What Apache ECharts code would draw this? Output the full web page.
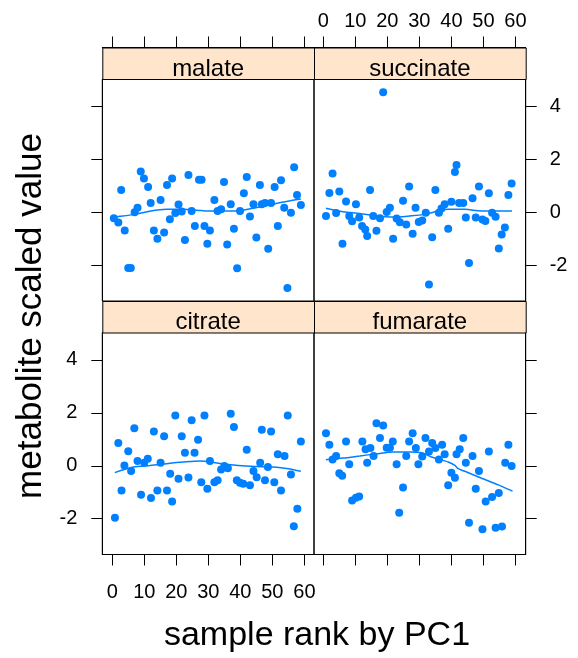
<!DOCTYPE html>
<html>
<head>
<meta charset="utf-8">
<script src="https://cdn.jsdelivr.net/npm/echarts@6/dist/echarts.min.js"></script>
<style>
html,body{margin:0;padding:0;background:#fff;}
#chart{width:578px;height:658px;}
</style>
</head>
<body>
<div id="chart"></div>
<script>
// ---------- data ----------
const panelNames = ['malate', 'succinate', 'citrate', 'fumarate'];
const xTicks = [0, 10, 20, 30, 40, 50, 60];
const yTicks = [-2, 0, 2, 4];
const xTitle = 'sample rank by PC1';
const yTitle = 'metabolite scaled value';

const malateX = [0.5,1.9,2.8,3.9,5.0,5.8,7.0,7.9,8.9,9.9,11.2,12.0,13.0,14.1,15.1,16.2,17.1,18.0,18.7,19.7,20.7,21.7,22.7,23.8,24.8,25.8,27.1,27.9,28.8,29.7,30.5,31.9,32.9,34.0,34.9,35.9,37.0,38.0,39.0,39.9,41.1,42.0,43.0,44.1,45.0,46.1,46.7,47.7,48.7,49.6,50.7,51.7,52.7,53.7,54.7,55.8,56.8,57.7,58.9];
const malateY = [-0.23,-0.39,0.84,-0.69,-2.1,-2.1,0.0,0.17,1.54,1.27,0.95,0.35,-0.69,-1.0,0.46,-0.76,1.03,-0.26,1.27,-0.03,0.29,0.03,-1.05,1.41,0.05,-0.52,1.23,1.23,-0.52,-1.19,-0.69,0.46,0.05,0.11,1.14,-1.22,0.30,-0.62,-2.11,0.05,0.72,1.33,-0.16,0.30,-0.95,1.03,0.30,0.35,-1.38,0.35,0.95,-0.52,1.21,0.17,-2.86,-0.02,1.70,0.65,0.27];
const malateSmoothX = [0.5,7,12,17,22,27,29,34,39,44,49,54,58.9];
const malateSmoothY = [-0.18,-0.08,0.05,0.11,0.11,0.07,0.05,0.05,0.05,0.15,0.28,0.40,0.50];

const succinateX = [0.84,1.9,2.9,4.0,5.0,6.0,7.1,8.1,9.0,10.2,11.2,12.1,13.1,13.7,14.6,15.6,16.6,17.7,18.7,19.8,20.8,21.8,22.9,23.9,24.9,25.9,26.8,27.9,28.8,29.8,30.9,32.0,33.0,34.0,35.0,36.1,36.9,37.9,39.0,40.0,41.1,41.6,42.4,43.7,44.5,45.5,46.6,47.6,48.6,49.7,50.6,51.7,52.7,53.8,54.8,55.7,56.7,57.8,58.8];
const succinateY = [-0.14,0.73,1.46,-0.03,0.78,-1.19,0.41,-0.14,-0.34,0.30,-0.20,-0.52,-0.65,-0.90,0.84,-0.14,-0.70,-0.23,4.53,0.01,0.17,-1.00,-0.24,-0.38,0.43,-0.46,0.97,-0.81,0.17,-0.37,-0.31,-0.02,-2.73,-0.94,0.84,-0.02,0.14,0.30,-0.62,0.40,1.52,1.78,0.35,0.35,-0.20,-1.92,0.53,-0.20,0.97,-0.27,-0.33,0.72,-0.02,-0.17,-1.37,-0.84,-0.58,0.65,1.09];
const succinateSmoothX = [0.8,6.2,11.4,16.6,21.8,27,31.7,35.9,39,44.2,49.4,54.6,58.9];
const succinateSmoothY = [0.15,0.02,-0.05,-0.14,-0.18,-0.14,-0.08,0.05,0.11,0.11,0.05,0.05,0.05];

const citrateX = [0.84,1.9,2.9,3.8,5.0,5.9,6.9,7.9,9.0,10.0,11.1,12.1,13.0,14.1,15.1,16.2,17.1,18.1,18.7,19.7,20.7,21.7,22.7,23.8,24.8,25.7,26.8,27.8,28.8,29.7,30.5,31.9,32.9,34.0,35.0,36.1,37.0,38.0,38.9,39.9,40.9,42.0,43.0,44.1,45.1,46.2,46.7,47.7,48.6,49.6,50.6,51.7,52.7,53.8,54.8,55.8,56.7,57.8,58.9];
const citrateY = [-1.96,0.86,-0.93,0.01,0.55,-0.20,1.42,0.18,-1.09,0.11,0.26,-1.22,1.29,-0.93,0.11,1.11,-0.93,-0.30,-1.35,1.90,-0.49,1.11,0.49,-0.44,1.72,0.49,0.98,-0.62,1.90,-0.87,0.18,-0.62,-0.55,-0.14,-0.01,-0.09,1.96,1.46,-0.55,-0.64,-0.68,0.60,-0.74,-0.20,-0.43,0.11,1.36,-0.55,-0.05,1.29,-0.62,0.43,-0.93,0.37,1.90,-0.33,-2.28,-1.62,0.92];
const citrateSmoothX = [0.8,6.6,11.8,17,22.2,27.4,29,34.2,39.4,44.6,49.8,55,58.9];
const citrateSmoothY = [-0.26,-0.05,0.01,0.08,0.14,0.18,0.17,0.08,0.01,-0.03,-0.05,-0.11,-0.21];

const fumarateX = [0.84,1.9,2.9,4.0,5.0,5.9,7.1,8.1,9.0,10.2,11.2,12.2,13.2,13.7,14.7,15.7,16.6,17.7,18.7,19.8,20.8,21.7,22.9,23.7,24.9,25.9,26.8,27.9,28.9,29.7,30.9,31.9,33.0,34.0,35.0,36.1,37.1,37.9,39.0,40.0,41.1,41.6,42.6,43.7,44.5,45.5,46.6,47.6,48.6,49.7,50.7,51.7,52.7,53.8,54.8,55.8,56.8,57.8,58.8];
const fumarateY = [1.23,0.79,0.24,0.37,-0.28,-0.38,0.92,0.06,-1.31,-1.21,-1.16,0.92,0.62,0.11,0.67,0.37,1.60,1.05,1.52,0.68,0.68,0.92,0.06,-1.77,-0.82,0.37,0.92,1.23,0.67,0.06,0.35,1.05,0.54,0.86,0.67,0.24,0.79,0.43,-0.74,-0.26,-0.45,0.43,0.62,1.05,0.11,-2.15,0.37,-0.87,-0.20,-2.40,-1.35,0.54,-1.18,-2.34,-1.03,-2.29,0.11,0.79,-0.01];
const fumarateSmoothX = [0.8,6.2,11.4,16.6,21.8,27,30.7,33.8,39,41.1,42.1,44.2,49.4,54.6,59.1];
const fumarateSmoothY = [0.23,0.29,0.37,0.45,0.52,0.52,0.49,0.33,0.14,0.01,-0.11,-0.21,-0.47,-0.72,-0.96];

// ---------- layout / style ----------
const FONT = 'Liberation Sans, Arial, Helvetica, sans-serif';
const COL = '#0080ff';
const STRIP = '#ffe5cc';
const L0 = 102.3, L1 = 314, PW = 211.7;
const T0 = 79, T1 = 332.5, PH = 222;
const STRIP_H = 31.5;
const YMIN = -3.35, YMAX = 5.03;

const pts = (xs, ys) => xs.map((x, i) => [x, ys[i]]);

const panels = [
  {x: malateX, y: malateY, sx: malateSmoothX, sy: malateSmoothY},
  {x: succinateX, y: succinateY, sx: succinateSmoothX, sy: succinateSmoothY},
  {x: citrateX, y: citrateY, sx: citrateSmoothX, sy: citrateSmoothY},
  {x: fumarateX, y: fumarateY, sx: fumarateSmoothX, sy: fumarateSmoothY}
];

const grids = [
  {left: L0, top: T0, width: PW, height: PH},
  {left: L1, top: T0, width: PW, height: PH},
  {left: L0, top: T1, width: PW, height: PH},
  {left: L1, top: T1, width: PW, height: PH}
].map(g => Object.assign(g, {show: true, borderColor: '#000', borderWidth: 1, backgroundColor: 'transparent', containLabel: false}));

const tickStyle = {show: true, inside: false, length: 11, lineStyle: {color: '#000', width: 1}};
const labelStyle = (show, margin) => ({show, margin, fontSize: 20, fontFamily: FONT, color: '#000'});

function xAx(gi, pos, showLabel, offset, margin, min, max) {
  return {
    type: 'value', gridIndex: gi, position: pos, offset: offset,
    min: min, max: max,
    axisLine: {show: true, onZero: false, lineStyle: {color: '#000', width: 1}},
    axisTick: Object.assign({customValues: xTicks}, tickStyle),
    axisLabel: Object.assign({customValues: xTicks}, labelStyle(showLabel, margin)),
    splitLine: {show: false}
  };
}
function yAx(gi, pos, showLabel, margin) {
  return {
    type: 'value', gridIndex: gi, position: pos,
    min: YMIN, max: YMAX,
    axisLine: {show: true, onZero: false, lineStyle: {color: '#000', width: 1}},
    axisTick: Object.assign({customValues: yTicks}, tickStyle),
    axisLabel: Object.assign({customValues: yTicks}, labelStyle(showLabel, margin)),
    splitLine: {show: false}
  };
}

const xAxes = [
  xAx(0, 'top', false, STRIP_H, 16, -3.1, 63),
  xAx(1, 'top', true, STRIP_H, 16, -2.9, 63.2),
  xAx(2, 'bottom', true, 0, 28, -3.1, 63),
  xAx(3, 'bottom', false, 0, 28, -2.9, 63.2)
];
const yAxes = [
  yAx(0, 'left', false, 25),
  yAx(1, 'right', true, 24),
  yAx(2, 'left', true, 25),
  yAx(3, 'right', false, 24)
];

const series = [];
panels.forEach((p, i) => {
  series.push({
    type: 'scatter', xAxisIndex: i, yAxisIndex: i,
    data: pts(p.x, p.y), symbol: 'circle', symbolSize: 8,
    itemStyle: {color: COL, opacity: 1}, silent: true, z: 3
  });
  series.push({
    type: 'line', xAxisIndex: i, yAxisIndex: i,
    data: pts(p.sx, p.sy), showSymbol: false, smooth: 0.3,
    lineStyle: {color: COL, width: 1.5}, silent: true, z: 4
  });
});

const stripGraphics = [];
const stripPos = [[L0, T0 - STRIP_H], [L1, T0 - STRIP_H], [L0, T1 - STRIP_H], [L1, T1 - STRIP_H]];
stripPos.forEach((sp, i) => {
  stripGraphics.push({
    type: 'rect', left: sp[0], top: sp[1], z: 1,
    shape: {width: PW, height: STRIP_H},
    style: {fill: STRIP, stroke: '#000', lineWidth: 1}
  });
  stripGraphics.push({
    type: 'text', x: sp[0] + PW / 2, y: sp[1] + 21.5, z: 2,
    style: {text: panelNames[i], fontSize: 24, fontFamily: FONT, fill: '#000', textAlign: 'center', textVerticalAlign: 'middle'}
  });
});
stripGraphics.push({
  type: 'text', x: 317, y: 636, z: 2,
  style: {text: xTitle, fontSize: 34, fontFamily: FONT, fill: '#000', textAlign: 'center', textVerticalAlign: 'middle'}
});
stripGraphics.push({
  type: 'text', x: 31, y: 316, rotation: Math.PI / 2, z: 2,
  style: {text: yTitle, fontSize: 35, fontFamily: FONT, fill: '#000', textAlign: 'center', textVerticalAlign: 'middle'}
});

const chart = echarts.init(document.getElementById('chart'), null, {renderer: 'canvas'});
chart.setOption({
  animation: false,
  backgroundColor: '#fff',
  grid: grids,
  xAxis: xAxes,
  yAxis: yAxes,
  series: series,
  graphic: stripGraphics
});
</script>
</body>
</html>
